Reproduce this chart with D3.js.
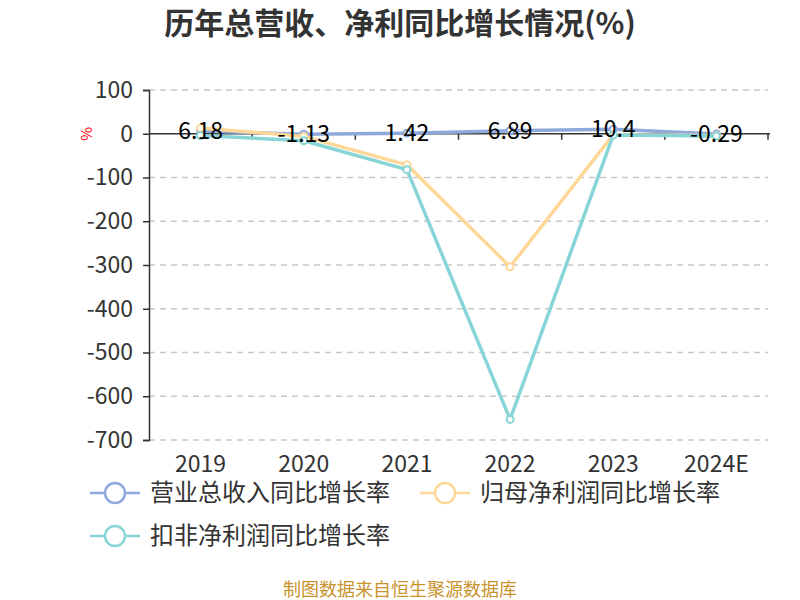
<!DOCTYPE html>
<html>
<head>
<meta charset="utf-8">
<script src="https://cdn.jsdelivr.net/npm/d3@7"></script>
<style>
  body { margin: 0; background: #fff; }
  text { font-family: "Noto Sans CJK SC", "Noto Sans", sans-serif; }
</style>
</head>
<body>
<script>
// data
var years = ["2019", "2020", "2021", "2022", "2023", "2024E"];
var revenueGrowth = [6.18, -1.13, 1.42, 6.89, 10.4, -0.29];
var netProfitGrowth = [13, -6, -71, -304, -2, -4];
var deductedProfitGrowth = [-4, -16, -82, -653, -3, -5];
var yTicks = [100, 0, -100, -200, -300, -400, -500, -600, -700];
var seriesNames = ["营业总收入同比增长率", "归母净利润同比增长率", "扣非净利润同比增长率"];
var colors = ["#8eaadc", "#ffd899", "#88d5d8"];

var margin = {top: 90, right: 32, bottom: 160, left: 149},
    width = 800 - margin.left - margin.right,
    height = 600 - margin.top - margin.bottom;

var svg = d3.select("body").append("svg")
    .attr("width", 800)
    .attr("height", 600);

var g = svg.append("g")
    .attr("transform", "translate(" + margin.left + "," + margin.top + ")");

var x = d3.scaleBand().domain(years).range([0, width]);
var y = d3.scaleLinear().domain([-700, 100]).range([height, 0]);

// title
svg.append("text")
    .attr("x", 400).attr("y", 34)
    .attr("text-anchor", "middle")
    .style("font-size", "30px").style("font-weight", "bold")
    .style("fill", "#333")
    .text("历年总营收、净利同比增长情况(%)");

// grid lines
g.selectAll(".grid").data(yTicks.filter(function(d) { return d !== 0; }))
  .enter().append("line")
    .attr("x1", 0).attr("x2", width)
    .attr("y1", function(d) { return y(d); })
    .attr("y2", function(d) { return y(d); })
    .attr("stroke", "#c8c8c8").attr("stroke-width", 1.5)
    .attr("stroke-dasharray", "6,5");

// y axis
var yAxis = g.append("g")
    .call(d3.axisLeft(y).tickValues(yTicks).tickSize(6).tickPadding(10)
      .tickFormat(function(d) { return String(d); }));
yAxis.select(".domain").attr("stroke", "#333").attr("stroke-width", 1.5);
yAxis.selectAll(".tick line").attr("stroke", "#333").attr("stroke-width", 1.5);
yAxis.selectAll("text").style("font-size", "23px").style("fill", "#333")
    .style("font-family", "'Noto Sans CJK SC', sans-serif");

// unit
svg.append("text")
    .attr("transform", "translate(92," + (margin.top + y(0)) + ") rotate(-90)")
    .attr("text-anchor", "middle")
    .style("font-size", "15px").style("fill", "red")
    .text("%");

// x axis line at zero
var xAxis = g.append("g")
    .attr("transform", "translate(0," + y(0) + ")");
xAxis.append("line")
    .attr("x1", 0).attr("x2", width + 2)
    .attr("stroke", "#333").attr("stroke-width", 1.5);
xAxis.selectAll(".xt").data(years.slice(1).concat(["end"]))
  .enter().append("line")
    .attr("x1", function(d, i) { return x(years[0]) + x.bandwidth() * (i + 1); })
    .attr("x2", function(d, i) { return x(years[0]) + x.bandwidth() * (i + 1); })
    .attr("y1", 0).attr("y2", 6)
    .attr("stroke", "#333").attr("stroke-width", 1.5);

// x labels at bottom
g.selectAll(".xl").data(years)
  .enter().append("text")
    .attr("x", function(d) { return x(d) + x.bandwidth() / 2; })
    .attr("y", height + 32)
    .attr("text-anchor", "middle")
    .style("font-size", "23px").style("fill", "#333")
    .text(function(d) { return d; });

// lines
var allSeries = [revenueGrowth, netProfitGrowth, deductedProfitGrowth];
var line = d3.line()
    .x(function(d, i) { return x(years[i]) + x.bandwidth() / 2; })
    .y(function(d) { return y(d); });

allSeries.forEach(function(s, k) {
  g.append("path")
      .datum(s)
      .attr("fill", "none")
      .attr("stroke", colors[k])
      .attr("stroke-width", 3.5)
      .attr("stroke-linejoin", "round")
      .attr("d", line);
  g.selectAll(".pt" + k).data(s)
    .enter().append("circle")
      .attr("cx", function(d, i) { return x(years[i]) + x.bandwidth() / 2; })
      .attr("cy", function(d) { return y(d); })
      .attr("r", 3.5)
      .attr("fill", "#fff")
      .attr("stroke", colors[k])
      .attr("stroke-width", 2);
});

// value labels for revenue growth
g.selectAll(".vl").data(revenueGrowth)
  .enter().append("text")
    .attr("x", function(d, i) { return x(years[i]) + x.bandwidth() / 2; })
    .attr("y", function(d) { return y(d) + 8; })
    .attr("text-anchor", "middle")
    .style("font-size", "23px").style("fill", "#000")
    .text(function(d) { return d; });

// legend
var legendPos = [[90, 493], [420, 493], [90, 536]];
seriesNames.forEach(function(name, k) {
  var lg = svg.append("g")
      .attr("transform", "translate(" + legendPos[k][0] + "," + legendPos[k][1] + ")");
  lg.append("line")
      .attr("x1", 0).attr("x2", 50)
      .attr("stroke", colors[k]).attr("stroke-width", 2.5);
  lg.append("circle")
      .attr("cx", 25).attr("r", 10)
      .attr("fill", "#fff")
      .attr("stroke", colors[k]).attr("stroke-width", 2.5);
  lg.append("text")
      .attr("x", 60).attr("y", 8)
      .style("font-size", "24px").style("fill", "#333")
      .text(name);
});

// source
svg.append("text")
    .attr("x", 400).attr("y", 596)
    .attr("text-anchor", "middle")
    .style("font-size", "18px").style("fill", "#c9932b")
    .text("制图数据来自恒生聚源数据库");
</script>
</body>
</html>
